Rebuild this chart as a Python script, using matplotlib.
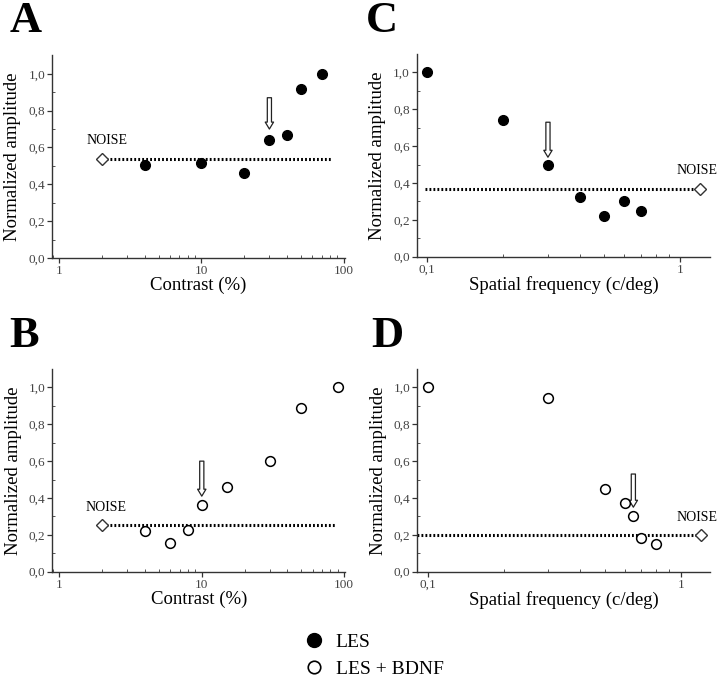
import matplotlib
matplotlib.use('Agg')
import matplotlib.pyplot as plt
from matplotlib.lines import Line2D
from matplotlib.ticker import FixedLocator, LogLocator, FuncFormatter, NullFormatter
import numpy as np

plt.rcParams['font.family'] = ['Liberation Serif', 'DejaVu Serif']

# panel A: contrast, LES
a_x = [4, 10, 20, 30, 40, 50, 70]
a_y = [0.505, 0.515, 0.46, 0.64, 0.665, 0.92, 1.0]
a_noise = (2, 0.54)
a_noise_end = 82
a_arrow = (30, 0.87, 0.70)

# panel B: contrast, LES + BDNF
b_x = [4, 6, 8, 10, 15, 30, 50, 90]
b_y = [0.22, 0.155, 0.225, 0.36, 0.46, 0.60, 0.89, 1.0]
b_noise = (2, 0.253)
b_noise_end = 86
b_arrow = (10, 0.60, 0.41)

# panel C: spatial frequency, LES
c_x = [0.1, 0.2, 0.3, 0.4, 0.5, 0.6, 0.7]
c_y = [1.0, 0.74, 0.50, 0.325, 0.22, 0.305, 0.25]
c_noise = (1.2, 0.37)
c_noise_start = 0.098
c_arrow = (0.3, 0.73, 0.54)

# panel D: spatial frequency, LES + BDNF
d_x = [0.1, 0.3, 0.5, 0.6, 0.65, 0.7, 0.8]
d_y = [1.0, 0.945, 0.45, 0.375, 0.30, 0.185, 0.15]
d_noise = (1.2, 0.2)
d_noise_start = 0.091
d_arrow = (0.65, 0.53, 0.35)

y_ticks = [0.0, 0.2, 0.4, 0.6, 0.8, 1.0]

fig = plt.figure(figsize=(7.2, 6.8), dpi=100)

W, H = 0.407, 0.298
axA = fig.add_axes([0.0722, 0.6206, W, H])
axC = fig.add_axes([0.5790, 0.6225, W, H])
axB = fig.add_axes([0.0726, 0.1593, W, H])
axD = fig.add_axes([0.5796, 0.1593, W, H])

def comma(v, pos=None):
    s = ('%g' % v)
    return s.replace('.', ',')

def style(ax, xlim, xlabel):
    ax.set_xscale('log')
    ax.set_xlim(*xlim)
    ax.set_ylim(0, 1.1)
    for s in ['top', 'right']:
        ax.spines[s].set_visible(False)
    for s in ['left', 'bottom']:
        ax.spines[s].set_color('#333333')
        ax.spines[s].set_linewidth(1.0)
    ax.yaxis.set_major_locator(FixedLocator(y_ticks))
    ax.yaxis.set_minor_locator(FixedLocator([0.1, 0.3, 0.5, 0.7, 0.9]))
    ax.yaxis.set_major_formatter(FuncFormatter(lambda v, p: ('%.1f' % v).replace('.', ',')))
    ax.xaxis.set_major_locator(LogLocator(base=10))
    ax.xaxis.set_minor_locator(LogLocator(base=10, subs=np.arange(2, 10)))
    ax.xaxis.set_major_formatter(FuncFormatter(comma))
    ax.xaxis.set_minor_formatter(NullFormatter())
    ax.tick_params(which='major', direction='out', length=3.5, width=0.9,
                   color='#333333', labelsize=9.5, labelcolor='#444444', pad=1.5)
    ax.tick_params(which='minor', direction='in', length=2, width=0.7, color='#555555')
    ax.set_xlabel(xlabel, fontsize=13.5, labelpad=0)
    ax.set_ylabel('Normalized amplitude', fontsize=13.5, labelpad=5)

def noise(ax, pt, x0, x1, dx):
    ax.plot([x0, x1], [pt[1], pt[1]], color='black', lw=2.2,
            linestyle=(0, (0.6, 0.7)), zorder=2)
    ax.plot([pt[0]], [pt[1]], marker='D', ms=6.5, mfc='white', mec='#333333',
            mew=1.0, zorder=4)
    ax.annotate('NOISE', (pt[0], pt[1]), xytext=(dx, 8), textcoords='offset points',
                ha='center', va='bottom', fontsize=10, annotation_clip=False)

def arrow(ax, a):
    ax.annotate('', xy=(a[0], a[2]), xytext=(a[0], a[1]),
                arrowprops=dict(arrowstyle='simple,head_length=0.5,head_width=0.6,tail_width=0.3',
                                fc='white', ec='#222222', lw=0.9, mutation_scale=10,
                                shrinkA=0, shrinkB=0))

# A
style(axA, (0.89, 102), 'Contrast (%)')
noise(axA, a_noise, a_noise[0], a_noise_end, 3.5)
axA.plot(a_x, a_y, 'o', color='black', ms=7, zorder=5)
arrow(axA, a_arrow)

# B
style(axB, (0.89, 102), 'Contrast (%)')
noise(axB, b_noise, b_noise[0], b_noise_end, 2.5)
axB.plot(b_x, b_y, 'o', mfc='white', mec='black', mew=1.1, ms=7, zorder=5)
arrow(axB, b_arrow)

# C
style(axC, (0.091, 1.31), 'Spatial frequency (c/deg)')
noise(axC, c_noise, c_noise_start, c_noise[0], -2.5)
axC.plot(c_x, c_y, 'o', color='black', ms=7, zorder=5)
arrow(axC, c_arrow)

# D
style(axD, (0.091, 1.31), 'Spatial frequency (c/deg)')
noise(axD, d_noise, d_noise_start, d_noise[0], -2.5)
axD.plot(d_x, d_y, 'o', mfc='white', mec='black', mew=1.1, ms=7, zorder=5)
arrow(axD, d_arrow)

# panel letters
for lbl, x, y in [('A', 0.013, 0.953), ('C', 0.508, 0.953),
                  ('B', 0.013, 0.490), ('D', 0.516, 0.490)]:
    fig.text(x, y, lbl, fontsize=32, fontweight='bold', va='baseline', ha='left')

# legend
handles = [Line2D([], [], ls='', marker='o', color='black', ms=10),
           Line2D([], [], ls='', marker='o', mfc='white', mec='black', mew=1.2, ms=9)]
fig.legend(handles, ['LES', 'LES + BDNF'], loc='upper left',
           bbox_to_anchor=(0.423, 0.069), frameon=False, fontsize=14,
           handlelength=1.0, handletextpad=0.6, labelspacing=0.5,
           borderpad=0, borderaxespad=0)

plt.savefig('out.png', dpi=100)
